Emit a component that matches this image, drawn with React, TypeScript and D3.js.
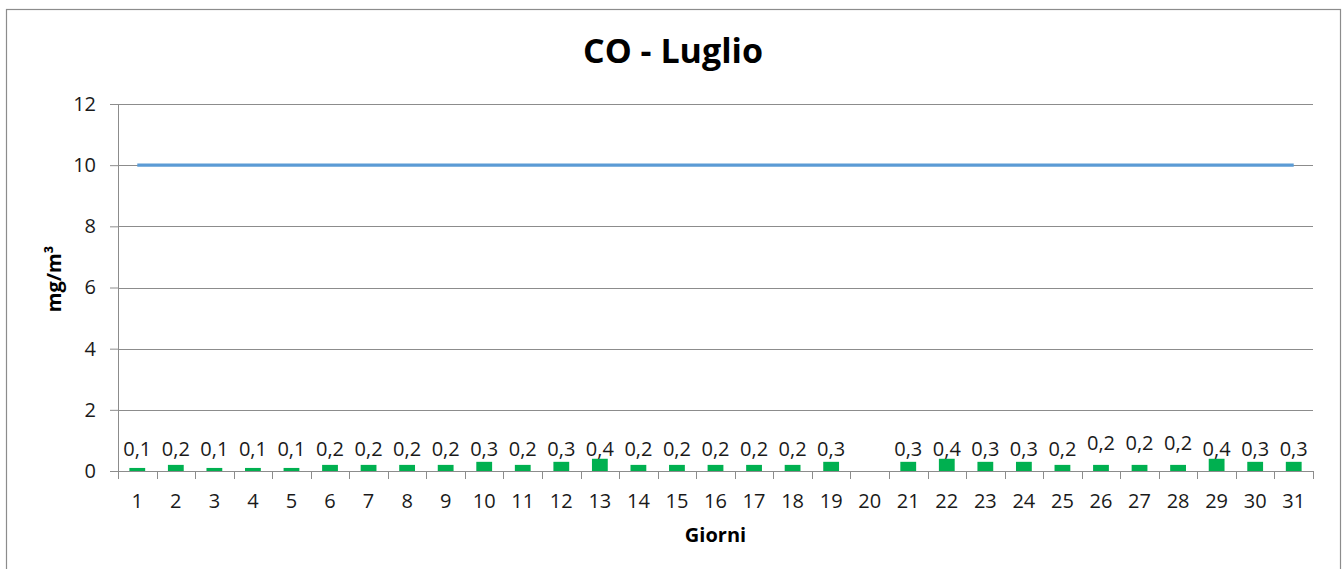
import * as d3 from 'd3';
import React, { useEffect, useRef } from 'react';

// giorni del mese e valori medi di CO (mg/m³); il 20 manca il dato
const giorni = ['1', '2', '3', '4', '5', '6', '7', '8', '9', '10', '11', '12', '13', '14', '15', '16',
  '17', '18', '19', '20', '21', '22', '23', '24', '25', '26', '27', '28', '29', '30', '31'];
const valoriCO = [0.1, 0.2, 0.1, 0.1, 0.1, 0.2, 0.2, 0.2, 0.2, 0.3, 0.2, 0.3, 0.4, 0.2, 0.2, 0.2,
  0.2, 0.2, 0.3, null, 0.3, 0.4, 0.3, 0.3, 0.2, 0.2, 0.2, 0.2, 0.4, 0.3, 0.3];
// valore limite (linea azzurra)
const limite = [10, 10, 10, 10, 10, 10, 10, 10, 10, 10, 10, 10, 10, 10, 10, 10,
  10, 10, 10, 10, 10, 10, 10, 10, 10, 10, 10, 10, 10, 10, 10];
const yTicks = [0, 2, 4, 6, 8, 10, 12];
// etichette che Excel ha spostato un po' più in alto
const etichetteAlzate = ['26', '27', '28'];

const FONT = "'Open Sans', 'DejaVu Sans', sans-serif";

const App = () => {
  const ref = useRef(null);

  useEffect(() => {
    const svg = d3.select(ref.current);
    svg.selectAll('*').remove();

    const margin = { top: 104, right: 30, bottom: 98, left: 118 };
    const W = 1343, H = 569;
    const width = W - margin.left - margin.right;
    const height = H - margin.top - margin.bottom;

    // cornice del grafico
    svg.append('rect')
      .attr('x', 6.5).attr('y', 9.5)
      .attr('width', 1334).attr('height', 580)
      .attr('fill', '#fff')
      .attr('stroke', '#8c8c8c')
      .attr('stroke-width', 1.2);

    svg.append('text')
      .attr('x', 673).attr('y', 63)
      .attr('text-anchor', 'middle')
      .attr('font-family', FONT)
      .attr('font-weight', 'bold')
      .attr('font-size', 34)
      .text('CO - Luglio');

    const g = svg.append('g').attr('transform', `translate(${margin.left},${margin.top})`);

    const x = d3.scaleBand().domain(giorni).range([0, width]).padding(0);
    const y = d3.scaleLinear().domain([0, 12]).range([height, 0]);

    // griglia orizzontale
    g.append('g')
      .selectAll('line')
      .data(yTicks)
      .join('line')
      .attr('x1', 0).attr('x2', width)
      .attr('y1', d => Math.round(y(d)) + 0.5).attr('y2', d => Math.round(y(d)) + 0.5)
      .attr('stroke', '#8c8c8c').attr('stroke-width', 1);

    // asse y
    const yAxis = g.append('g')
      .call(d3.axisLeft(y).tickValues(yTicks).tickSize(8).tickPadding(14).tickFormat(d3.format('d')));
    yAxis.select('.domain').attr('stroke', '#8c8c8c');
    yAxis.selectAll('.tick line').attr('stroke', '#8c8c8c');
    yAxis.selectAll('text')
      .attr('font-family', FONT).attr('font-size', 20).attr('fill', '#1a1a1a');

    // asse x: linea e tacche ai bordi delle categorie
    g.append('line')
      .attr('x1', 0).attr('x2', width)
      .attr('y1', height + 0.5).attr('y2', height + 0.5)
      .attr('stroke', '#8c8c8c');
    const bordi = giorni.map(d => x(d)).concat([width]);
    g.append('g')
      .selectAll('line')
      .data(bordi)
      .join('line')
      .attr('x1', d => Math.round(d) + 0.5).attr('x2', d => Math.round(d) + 0.5)
      .attr('y1', height).attr('y2', height + 8)
      .attr('stroke', '#8c8c8c');
    g.append('g')
      .selectAll('text')
      .data(giorni)
      .join('text')
      .attr('x', d => x(d) + x.bandwidth() / 2)
      .attr('y', height + 37)
      .attr('text-anchor', 'middle')
      .attr('font-family', FONT).attr('font-size', 20).attr('fill', '#1a1a1a')
      .text(d => d);

    // barre
    const bw = x.bandwidth() * 0.41;
    const dati = giorni.map((d, i) => ({ giorno: d, v: valoriCO[i] })).filter(d => d.v != null);
    g.append('g')
      .selectAll('rect')
      .data(dati)
      .join('rect')
      .attr('x', d => x(d.giorno) + (x.bandwidth() - bw) / 2)
      .attr('y', d => y(d.v))
      .attr('width', bw)
      .attr('height', d => height - y(d.v))
      .attr('fill', '#00b050');

    // etichette dei valori
    g.append('g')
      .selectAll('text')
      .data(dati)
      .join('text')
      .attr('x', d => x(d.giorno) + x.bandwidth() / 2)
      .attr('y', d => height - 15 - (etichetteAlzate.includes(d.giorno) ? 6 : 0))
      .attr('text-anchor', 'middle')
      .attr('font-family', FONT).attr('font-size', 20).attr('fill', '#1a1a1a')
      .text(d => String(d.v).replace('.', ','));

    // linea del limite
    const line = d3.line()
      .x((d, i) => x(giorni[i]) + x.bandwidth() / 2)
      .y(d => y(d));
    g.append('path')
      .datum(limite)
      .attr('fill', 'none')
      .attr('stroke', '#5b9bd5')
      .attr('stroke-width', 3.2)
      .attr('d', line);

    // titoli degli assi
    g.append('text')
      .attr('x', width / 2).attr('y', height + 71)
      .attr('text-anchor', 'middle')
      .attr('font-family', FONT).attr('font-weight', 'bold').attr('font-size', 20)
      .text('Giorni');
    svg.append('text')
      .attr('transform', 'translate(61,279) rotate(-90)')
      .attr('text-anchor', 'middle')
      .attr('font-family', FONT).attr('font-weight', 'bold').attr('font-size', 20)
      .text('mg/m³');
  }, []);

  return (
    <svg ref={ref} width={1343} height={569}
      style={{ position: 'absolute', left: 0, top: 0, background: '#fff' }} />
  );
};

export default App;
